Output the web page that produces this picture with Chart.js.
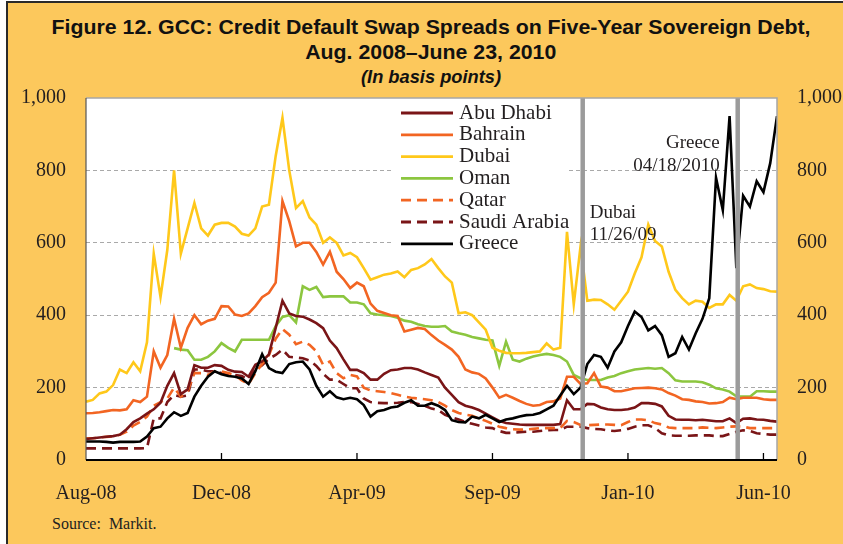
<!DOCTYPE html>
<html lang="en">
<head>
  <meta charset="UTF-8" />
  <title>GCC: Credit Default Swap Spreads on Five-Year Sovereign Debt</title>
  <script src="https://cdn.jsdelivr.net/npm/chart.js"></script>
  <style>
    body {
      margin: 0;
      background: #fff;
      width: 843px;
      height: 544px;
      overflow: hidden;
      position: relative;
    }
    .frame {
      position: absolute;
      left: 6px;
      top: 1px;
      width: 850px;
      height: 560px;
      background: #fcc85c;
      border-left: 2px solid #2a2a2a;
      border-top: 2px solid #2a2a2a;
    }
    .title {
      position: absolute;
      left: 0;
      width: 862px;
      text-align: center;
      line-height: 24px;
      color: #111;
      font-family: 'Liberation Sans', Arial, sans-serif;
      font-weight: bold;
      white-space: nowrap;
    }
    .title span {
      display: inline-block;
      transform-origin: center;
    }
    #t1 { top: 15px; font-size: 21px; }
    #t2 { top: 40px; font-size: 21px; }
    #t3 { top: 65px; font-size: 18px; font-style: italic; }
    .source {
      position: absolute;
      left: 52px;
      top: 515px;
      font-family: 'Liberation Serif', serif;
      font-size: 16px;
      color: #231f20;
      white-space: pre;
    }
    canvas {
      position: absolute;
      left: 0;
      top: 0;
    }
  </style>
</head>
<body>
  <div class="frame"></div>
  <div class="title" id="t1"><span>Figure 12. GCC: Credit Default Swap Spreads on Five-Year Sovereign Debt,</span></div>
  <div class="title" id="t2"><span>Aug. 2008–June 23, 2010</span></div>
  <div class="title" id="t3"><span>(In basis points)</span></div>
  <div class="source">Source:  Markit.</div>
  <canvas id="cds" width="843" height="544"></canvas>

  <script>
    // trading-day index (one point every 5 days), Aug-08 = 0
    const dayIndex = Array.from({ length: 103 }, (_, i) => i * 5);
    const tickDays = [0, 100, 200, 300, 400, 500];
    const tickLabels = ['Aug-08', 'Dec-08', 'Apr-09', 'Sep-09', 'Jan-10', 'Jun-10'];

    const abuDhabi = [
      58, 60, 62, 64, 66, 70, 85, 105, 115, 128, 140, 158, 205, 240, 182, 195, 262, 255, 255, 262, 260,
      249, 244, 243, 230, 263, 272, 292, 365, 440, 405, 398, 396, 388, 378, 364, 330, 309, 278, 249, 249,
      240, 222, 222, 238, 248, 250, 254, 254, 250, 242, 235, 228, 200, 180, 160, 150, 145, 138, 128, 118, 108,
      102, 100, 98, 97, 97, 97, 97, 97, 99, 165, 140, 140, 155, 154, 145, 140, 138, 138, 140, 145,
      157, 157, 155, 148, 122, 112, 111, 111, 110, 111, 109, 107, 107, 115, 102, 114, 115, 112, 111, 108, 106
    ];
    const bahrain = [
      129, 130, 132, 135, 138, 137, 140, 165, 160, 175, 300, 255, 290, 390, 310, 365, 400, 375, 385, 390, 425,
      424, 402, 398, 405, 425, 450, 462, 490, 715, 660, 590, 600, 600, 575, 540, 575, 520, 500, 475, 490,
      480, 432, 412, 406, 400, 398, 355, 360, 365, 362, 345, 330, 318, 305, 285, 250, 242, 238, 225, 200, 172,
      180, 172, 163, 155, 150, 152, 160, 162, 170, 230, 230, 210, 212, 240, 203, 200, 190, 190, 194, 198,
      199, 200, 198, 195, 185, 178, 168, 166, 162, 160, 156, 157, 160, 172, 168, 172, 172, 172, 168, 166, 166
    ];
    const dubai = [
      161, 166, 184, 189, 207, 250, 240, 270, 245, 325, 570, 450, 580, 800, 570, 640, 710, 640, 620, 650, 655,
      655, 645, 625, 620, 640, 700, 705, 840, 945, 800, 696, 715, 670, 650, 600, 615, 600, 565, 572, 560,
      530, 498, 505, 512, 515, 521, 505, 525, 530, 540, 555, 530, 507, 490, 405, 408, 400, 380, 360, 310, 302,
      296, 295, 295, 296, 298, 300, 322, 305, 310, 630, 430, 590, 440, 443, 442, 430, 415, 440, 465, 515,
      560, 650, 605, 590, 520, 470, 447, 430, 440, 437, 420, 430, 430, 456, 440, 480, 485, 475, 472, 466, 465
    ];
    const oman = [
      null, null, null, null, null, null, null, null, null, null, null, null, null, 309, 305, 303, 277, 277, 285, 300, 323,
      310, 300, 332, 332, 332, 332, 332, 370, 395, 400, 380, 480, 470, 478, 450, 452, 452, 452, 435, 435,
      430, 405, 402, 400, 398, 393, 385, 382, 375, 370, 368, 368, 370, 355, 350, 346, 340, 336, 332, 330, 260,
      327, 277, 272, 280, 286, 290, 293, 290, 285, 272, 235, 226, 221, 221, 221, 228, 232, 240, 245, 250,
      252, 254, 252, 254, 240, 220, 217, 217, 217, 215, 208, 198, 195, 189, 176, 175, 175, 190, 190, 189, 189
    ];
    const qatar = [
      60, 60, 62, 64, 65, 70, 78, 95, 105, 120, 150, 160, 170, 200, 175, 190, 240, 240, 235, 245, 245,
      240, 235, 220, 210, 240, 265, 290, 335, 362, 346, 320, 327, 318, 300, 263, 272, 240, 226, 235, 231,
      200, 192, 190, 188, 185, 180, 175, 172, 170, 168, 165, 160, 150, 138, 130, 125, 122, 115, 108, 100, 92,
      88, 85, 84, 84, 86, 88, 88, 88, 88, 108, 105, 97, 96, 97, 98, 98, 97, 96, 105, 112,
      112, 110, 102, 98, 90, 88, 88, 88, 88, 90, 89, 88, 90, 92, 93, 92, 88, 88, 88, 88, 88
    ];
    const saudiArabia = [
      32, 32, 32, 32, 32, 32, 32, 32, 32, 33, 115, 115, 160, 180, 175, 178, 250, 250, 245, 245, 240,
      238, 235, 232, 222, 250, 262, 280, 290, 305, 285, 283, 281, 275, 260, 238, 222, 222, 210, 198, 198,
      170, 160, 158, 157, 157, 158, 160, 160, 155, 150, 142, 138, 125, 118, 112, 105, 100, 95, 90, 88, 80,
      75, 75, 77, 78, 78, 80, 82, 83, 83, 92, 92, 92, 88, 86, 85, 82, 80, 82, 86, 92,
      96, 96, 88, 74, 68, 67, 67, 67, 68, 68, 68, 66, 66, 72, 78, 82, 80, 74, 72, 70, 70
    ];
    const greece = [
      51, 51, 51, 50, 48, 50, 50, 50, 51, 65, 88, 92, 115, 132, 122, 130, 175, 205, 230, 245, 237,
      232, 230, 225, 210, 245, 292, 254, 244, 240, 265, 270, 272, 250, 205, 175, 190, 173, 168, 172, 168,
      152, 120, 135, 138, 145, 148, 158, 165, 150, 150, 157, 150, 138, 110, 105, 104, 120, 115, 125, 115, 105,
      112, 115, 120, 124, 125, 130, 140, 150, 178, 205, 182, 200, 265, 290, 285, 255, 300, 325, 370, 410,
      395, 358, 370, 345, 285, 295, 340, 305, 350, 390, 447, 780, 690, 950, 530, 730, 700, 770, 740, 820, 950
    ];

    const eventDays = [366.6, 481];
    const eventNotes = [['Dubai', '11/26/09'], ['Greece', '04/18/2010']];

    const DARK_RED = '#7a1517';
    const ORANGE = '#f26522';
    const YELLOW = '#ffc81a';
    const GREEN = '#8cc63f';

    const series = [
      { label: 'Abu Dhabi', values: abuDhabi, color: DARK_RED, dash: [] },
      { label: 'Bahrain', values: bahrain, color: ORANGE, dash: [] },
      { label: 'Dubai', values: dubai, color: YELLOW, dash: [] },
      { label: 'Oman', values: oman, color: GREEN, dash: [] },
      { label: 'Qatar', values: qatar, color: ORANGE, dash: [10, 6] },
      { label: 'Saudi Arabia', values: saudiArabia, color: DARK_RED, dash: [10, 6] },
      { label: 'Greece', values: greece, color: '#000000', dash: [] }
    ];

    // squeeze the title to the condensed width of the reference (first line about 759px)
    (function fitTitle() {
      const first = document.querySelector('#t1 span');
      const k = 759 / first.offsetWidth;
      document.querySelectorAll('.title span').forEach(s => {
        s.style.transform = 'scaleX(' + k + ')';
      });
    })();

    const serif = "'Liberation Serif', 'Times New Roman', serif";
    const textColor = '#231f20';

    const datasets = series.map((s, i) => ({
      label: s.label,
      data: s.values.map((v, j) => ({ x: dayIndex[j], y: v })),
      borderColor: s.color,
      borderWidth: 2.6,
      borderDash: s.dash,
      pointRadius: 0,
      tension: 0,
      spanGaps: false,
      order: s.label === 'Greece' ? 1 : 2 + i
    }));
    eventDays.forEach(d => {
      datasets.push({
        label: '',
        data: [{ x: d, y: 0 }, { x: d, y: 1000 }],
        borderColor: '#9b9b9b',
        borderWidth: 4.5,
        pointRadius: 0,
        order: 0
      });
    });

    const frame = {
      id: 'frame',
      beforeDraw(chart) {
        const { ctx, chartArea: a } = chart;
        ctx.save();
        ctx.fillStyle = '#ffffff';
        ctx.fillRect(a.left, a.top, a.right - a.left, a.bottom - a.top);
        ctx.restore();
      },
      beforeDatasetsDraw(chart) {
        // white legend box hides the gridlines behind it
        const { ctx } = chart;
        ctx.save();
        ctx.fillStyle = '#ffffff';
        ctx.fillRect(394, 100, 172, 156);
        ctx.restore();
      },
      afterDraw(chart) {
        const { ctx, chartArea: a, scales } = chart;
        ctx.save();
        // plot border
        ctx.strokeStyle = '#a6a6a6';
        ctx.lineWidth = 1.5;
        ctx.beginPath();
        ctx.moveTo(a.left, a.top);
        ctx.lineTo(a.right, a.top);
        ctx.lineTo(a.right, a.bottom);
        ctx.stroke();
        ctx.strokeStyle = '#555555';
        ctx.lineWidth = 1.2;
        ctx.beginPath();
        ctx.moveTo(a.left, a.top);
        ctx.lineTo(a.left, a.bottom);
        ctx.stroke();
        ctx.strokeStyle = '#000000';
        ctx.lineWidth = 2;
        ctx.beginPath();
        ctx.moveTo(a.left, a.bottom);
        ctx.lineTo(a.right, a.bottom);
        ctx.stroke();
        // inward tick marks
        ctx.lineWidth = 1.3;
        tickDays.slice(1).forEach(d => {
          const x = scales.x.getPixelForValue(d);
          ctx.beginPath();
          ctx.moveTo(x, a.bottom);
          ctx.lineTo(x, a.bottom - 7);
          ctx.stroke();
        });

        // legend
        ctx.font = '21px ' + serif;
        ctx.textBaseline = 'middle';
        ctx.textAlign = 'left';
        series.forEach((s, i) => {
          const y = 113 + i * 21.8;
          ctx.strokeStyle = s.color;
          ctx.lineWidth = 2.8;
          ctx.setLineDash(s.dash);
          ctx.beginPath();
          ctx.moveTo(401, y);
          ctx.lineTo(453, y);
          ctx.stroke();
          ctx.setLineDash([]);
          ctx.fillStyle = textColor;
          ctx.fillText(s.label, 459, y);
        });

        // event notes
        ctx.font = '19px ' + serif;
        ctx.textBaseline = 'alphabetic';
        ctx.fillStyle = textColor;
        const xd = scales.x.getPixelForValue(eventDays[0]);
        ctx.textAlign = 'left';
        ctx.fillText(eventNotes[0][0], xd + 7, 218);
        ctx.fillText(eventNotes[0][1], xd + 7, 240);
        const xg = scales.x.getPixelForValue(eventDays[1]);
        ctx.textAlign = 'right';
        ctx.fillText(eventNotes[1][0], xg - 18, 148);
        ctx.fillText(eventNotes[1][1], xg - 18, 171);
        ctx.restore();
      }
    };

    const tickFont = { family: serif, size: 20 };

    new Chart(document.getElementById('cds'), {
      type: 'line',
      data: { datasets },
      options: {
        responsive: false,
        animation: false,
        layout: { padding: { top: 98, left: 0, right: 0, bottom: 0 } },
        plugins: { legend: { display: false }, tooltip: { enabled: false } },
        scales: {
          x: {
            type: 'linear',
            min: 0,
            max: 510,
            afterFit(s) { s.height = 84; },
            afterBuildTicks(s) { s.ticks = tickDays.map(v => ({ value: v })); },
            ticks: {
              autoSkip: false,
              maxRotation: 0,
              padding: 22,
              font: tickFont,
              color: textColor,
              callback: v => tickLabels[Math.round(v / 100)]
            },
            grid: { display: false, drawTicks: false },
            border: { display: false }
          },
          y: {
            position: 'left',
            min: 0,
            max: 1000,
            afterFit(s) { s.width = 86; },
            ticks: {
              stepSize: 200,
              padding: 20,
              font: tickFont,
              color: textColor,
              callback: v => v.toLocaleString('en-US')
            },
            grid: {
              drawTicks: false,
              lineWidth: 1,
              color: c => (c.tick && (c.tick.value === 0 || c.tick.value === 1000)) ? 'rgba(0,0,0,0)' : '#a9a9a9'
            },
            border: { display: false, dash: [4, 3] }
          },
          y2: {
            position: 'right',
            min: 0,
            max: 1000,
            afterFit(s) { s.width = 66; },
            ticks: {
              stepSize: 200,
              padding: 20,
              font: tickFont,
              color: textColor,
              callback: v => v.toLocaleString('en-US')
            },
            grid: { display: false, drawTicks: false },
            border: { display: false }
          }
        }
      },
      plugins: [frame]
    });
  </script>
</body>
</html>
